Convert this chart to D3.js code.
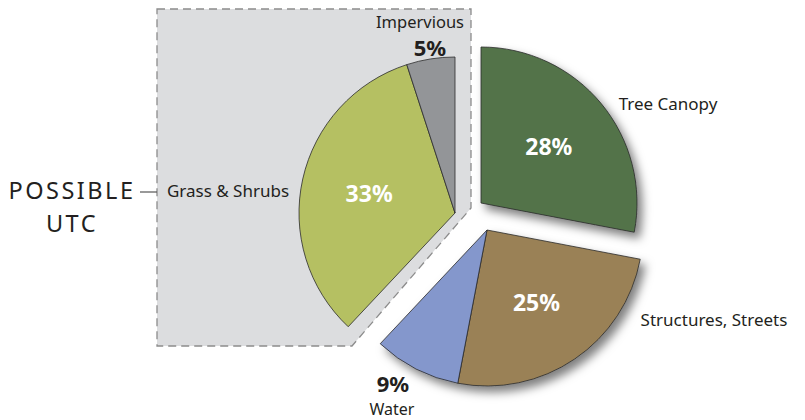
<!DOCTYPE html>
<html>
<head>
<meta charset="utf-8">
<script src="https://cdn.jsdelivr.net/npm/d3@7"></script>
<style>
  body { margin: 0; background: #fff; }
  svg { display: block; font-family: "Noto Sans", sans-serif; }
</style>
</head>
<body>
<div class="pie-card"></div>
<script>
// data
let categories = ["Tree Canopy", "Structures, Streets", "Water", "Grass & Shrubs", "Impervious"];
let values = [28, 25, 9, 33, 5];
let colors = ["#52734a", "#9a8156", "#8497cc", "#b5c062", "#939598"];
let groups = ["tree", "built", "built", "possible", "possible"];

let width = 805, height = 420;

createPieChart = () => {
    let svg = d3.select(".pie-card")
        .append("svg")
        .attr("width", width)
        .attr("height", height);

    // drop shadow for the slices outside the grey box
    let defs = svg.append("defs");
    let shadow = defs.append("filter")
        .attr("id", "shadow")
        .attr("x", "-20%").attr("y", "-20%")
        .attr("width", "150%").attr("height", "150%");
    shadow.append("feDropShadow")
        .attr("dx", 5).attr("dy", 6)
        .attr("stdDeviation", 5)
        .attr("flood-color", "#000")
        .attr("flood-opacity", 0.5);

    let radius = 156;
    let cx = 470, cy = 212;

    // how far each group of slices is pulled out of the pie
    let offsets = {
        tree: [11, -9],
        built: [17, 18],
        possible: [-15, 1]
    };

    let pie = d3.pie().sort(null).startAngle(0).endAngle(2 * Math.PI);
    let arcs = pie(values);
    let arc = d3.arc().innerRadius(0).outerRadius(radius);
    let labelArc = d3.arc().innerRadius(88).outerRadius(88);

    let apex = g => [cx + offsets[g][0], cy + offsets[g][1]];

    // grey "possible UTC" box around grass & impervious
    let pa = apex("possible");
    let boxPoints = [
        [pa[0] - 298, pa[1] - 204],
        [pa[0] + 16, pa[1] - 204],
        [pa[0] + 16, pa[1] - 5],
        [pa[0] - 103, pa[1] + 133],
        [pa[0] - 298, pa[1] + 133]
    ];
    svg.append("polygon")
        .attr("points", boxPoints.map(p => p.join(",")).join(" "))
        .attr("fill", "#dcdddf")
        .attr("stroke", "#8c8c8c")
        .attr("stroke-width", 1.3)
        .attr("stroke-dasharray", "8,5");

    // slices, grouped so each group shares one offset
    ["possible", "tree", "built"].forEach(g => {
        let layer = svg.append("g")
            .attr("transform", "translate(" + apex(g) + ")");
        if (g != "possible") layer.attr("filter", "url(#shadow)");
        layer.selectAll("path")
            .data(arcs.filter((d, i) => groups[i] == g))
            .enter()
            .append("path")
            .attr("d", arc)
            .attr("fill", d => colors[d.index])
            .attr("stroke", "#2b2b2b")
            .attr("stroke-width", 0.8)
            .attr("stroke-linejoin", "round");
    });

    // white percentages inside the big slices
    arcs.filter(d => d.data > 20).forEach(d => {
        let a = apex(groups[d.index]);
        let c = labelArc.centroid(d);
        svg.append("text")
            .attr("x", a[0] + c[0])
            .attr("y", a[1] + c[1])
            .attr("dy", "0.35em")
            .attr("text-anchor", "middle")
            .attr("fill", "#fff")
            .attr("font-size", 23)
            .attr("font-weight", "bold")
            .text(d.data + "%");
    });

    let label = (x, y, txt, size, bold) => svg.append("text")
        .attr("x", x).attr("y", y)
        .attr("dy", "0.35em")
        .attr("text-anchor", "middle")
        .attr("fill", "#231f20")
        .attr("font-size", size)
        .attr("font-weight", bold ? "bold" : "normal")
        .text(txt);

    // outside labels
    label(668, 104, categories[0], 17);
    label(714, 320, categories[1], 17);
    label(393, 384, values[2] + "%", 22, true);
    label(392, 409, categories[2], 16);
    label(228, 191, categories[3], 17);
    label(420, 22, categories[4], 16.5);
    label(430, 48, values[4] + "%", 22, true);

    // side note
    label(72, 191, "POSSIBLE", 23.5).attr("letter-spacing", 2.5);
    label(72, 224, "UTC", 23.5).attr("letter-spacing", 2.5);
    svg.append("line")
        .attr("x1", 140).attr("x2", 157)
        .attr("y1", 192).attr("y2", 192)
        .attr("stroke", "#555")
        .attr("stroke-width", 1.2);
}

createPieChart()
</script>
</body>
</html>
